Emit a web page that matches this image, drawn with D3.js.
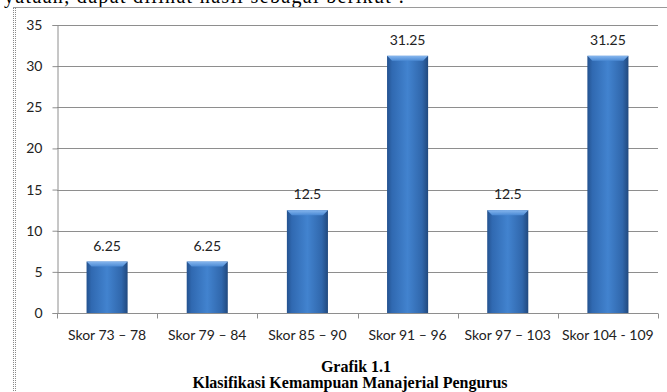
<!DOCTYPE html>
<html>
<head>
<meta charset="utf-8">
<script src="https://cdn.jsdelivr.net/npm/d3@7/dist/d3.min.js"></script>
<style>
  html, body { margin: 0; padding: 0; background: #fff; overflow: hidden; }
  svg { display: block; }
</style>
</head>
<body>
<svg id="chart" width="667" height="392"></svg>
<script>
// Score classes and the share of respondents (%) in each
const categories = ["Skor 73 – 78", "Skor 79 – 84", "Skor 85 – 90", "Skor 91 – 96", "Skor 97 – 103", "Skor 104 - 109"];
const values = [6.25, 6.25, 12.5, 31.25, 12.5, 31.25];
const yTicks = [0, 5, 10, 15, 20, 25, 30, 35];
const valueLabels = ["6.25", "6.25", "12.5", "31.25", "12.5", "31.25"];
const introText = "yataan, dapat dilihat hasil sebagai berikut :";
const captionTitle = "Grafik 1.1";
const captionSub = "Klasifikasi Kemampuan Manajerial Pengurus";

const svg = d3.select("#chart");
const W = 667, H = 392;
const plot = { left: 57, right: 658, top: 25, bottom: 313 };

const labelFont = "Lato, 'Open Sans', sans-serif";
const serif = "'Liberation Serif', 'Times New Roman', serif";

// Bar shading: dark edges, lighter middle
const defs = svg.append("defs");
const grad = defs.append("linearGradient").attr("id", "barGrad")
  .attr("x1", "0").attr("x2", "1").attr("y1", "0").attr("y2", "0");
[["0%", "#24528f"], ["12%", "#3069b1"], ["50%", "#4283cf"], ["85%", "#3067ac"], ["100%", "#21497e"]]
  .forEach(([o, c]) => grad.append("stop").attr("offset", o).attr("stop-color", c));
const capGrad = defs.append("linearGradient").attr("id", "capGrad")
  .attr("x1", "0").attr("x2", "0").attr("y1", "0").attr("y2", "1");
[["0%", "#86b6ee"], ["100%", "#4b8ad4"]]
  .forEach(([o, c]) => capGrad.append("stop").attr("offset", o).attr("stop-color", c));

// Surrounding text line and page frame
svg.append("text")
  .attr("x", 4).attr("y", 3)
  .attr("font-family", serif).attr("font-size", 20).attr("fill", "#000")
  .attr("textLength", 400).attr("lengthAdjust", "spacing")
  .text(introText);
svg.append("line")
  .attr("x1", 13).attr("x2", W).attr("y1", 7.5).attr("y2", 7.5)
  .attr("stroke", "#9a9a9a").attr("stroke-width", 1);
[13.5, 15.5].forEach(x => svg.append("line")
  .attr("x1", x).attr("x2", x).attr("y1", 8).attr("y2", H)
  .attr("stroke", "#8a8a8a").attr("stroke-width", 1).attr("stroke-dasharray", "1,1"));

// Scales
const y = d3.scaleLinear().domain([0, 35]).range([plot.bottom, plot.top]);
const x = d3.scaleBand().domain(categories).range([plot.left, plot.right]).paddingInner(0.59).paddingOuter(0.295);
const xb = d3.scaleBand().domain(categories).range([plot.left, plot.right]);

// Gridlines
svg.append("g").selectAll("line").data(yTicks.filter(d => d > 0)).join("line")
  .attr("x1", plot.left).attr("x2", plot.right)
  .attr("y1", d => Math.round(y(d)) + 0.5).attr("y2", d => Math.round(y(d)) + 0.5)
  .attr("stroke", "#8e8e8e").attr("stroke-width", 1);

// Y axis
const yAxis = svg.append("g").attr("transform", `translate(${plot.left + 0.5},0)`)
  .call(d3.axisLeft(y).tickValues(yTicks).tickSize(5).tickPadding(10).tickFormat(d3.format("d")));
yAxis.select(".domain").attr("stroke", "#8e8e8e");
yAxis.selectAll(".tick line").attr("stroke", "#8e8e8e");
yAxis.selectAll(".tick text").attr("font-family", labelFont).attr("font-size", 14).attr("fill", "#222");

// X axis with ticks between categories
const xAxisY = Math.round(y(0)) + 0.5;
svg.append("line").attr("x1", plot.left).attr("x2", plot.right).attr("y1", xAxisY).attr("y2", xAxisY)
  .attr("stroke", "#8e8e8e");
const bounds = categories.map(c => xb(c)).concat([plot.right]);
svg.append("g").selectAll("line").data(bounds).join("line")
  .attr("x1", d => Math.round(d) + 0.5).attr("x2", d => Math.round(d) + 0.5)
  .attr("y1", xAxisY).attr("y2", xAxisY + 5)
  .attr("stroke", "#8e8e8e");
svg.append("g").selectAll("text").data(categories).join("text")
  .attr("x", d => xb(d) + xb.bandwidth() / 2).attr("y", 340)
  .attr("text-anchor", "middle")
  .attr("font-family", labelFont).attr("font-size", 14).attr("fill", "#222")
  .text(d => d);

// Bars
const bars = svg.append("g");
bars.selectAll("rect.bar").data(values).join("rect").attr("class", "bar")
  .attr("x", (d, i) => x(categories[i]))
  .attr("y", d => y(d))
  .attr("width", x.bandwidth())
  .attr("height", d => y(0) - y(d))
  .attr("fill", "url(#barGrad)");
bars.selectAll("path.cap").data(values).join("path").attr("class", "cap")
  .attr("d", (d, i) => {
    const x0 = x(categories[i]), w = x.bandwidth(), t = y(d), b = 5;
    return `M${x0},${t}L${x0 + w},${t}L${x0 + w - b},${t + b}L${x0 + b},${t + b}Z`;
  })
  .attr("fill", "url(#capGrad)");

// Value labels above bars
svg.append("g").selectAll("text").data(values).join("text")
  .attr("x", (d, i) => x(categories[i]) + x.bandwidth() / 2)
  .attr("y", d => y(d) - 11)
  .attr("text-anchor", "middle")
  .attr("font-family", labelFont).attr("font-size", 14).attr("fill", "#222")
  .text((d, i) => valueLabels[i]);

// Caption
svg.append("text").attr("x", 356).attr("y", 372)
  .attr("text-anchor", "middle").attr("font-family", serif).attr("font-weight", "bold")
  .attr("font-size", 16).attr("fill", "#000").text(captionTitle);
svg.append("text").attr("x", 350).attr("y", 388)
  .attr("text-anchor", "middle").attr("font-family", serif).attr("font-weight", "bold")
  .attr("font-size", 16).attr("fill", "#000").text(captionSub);
</script>
</body>
</html>
